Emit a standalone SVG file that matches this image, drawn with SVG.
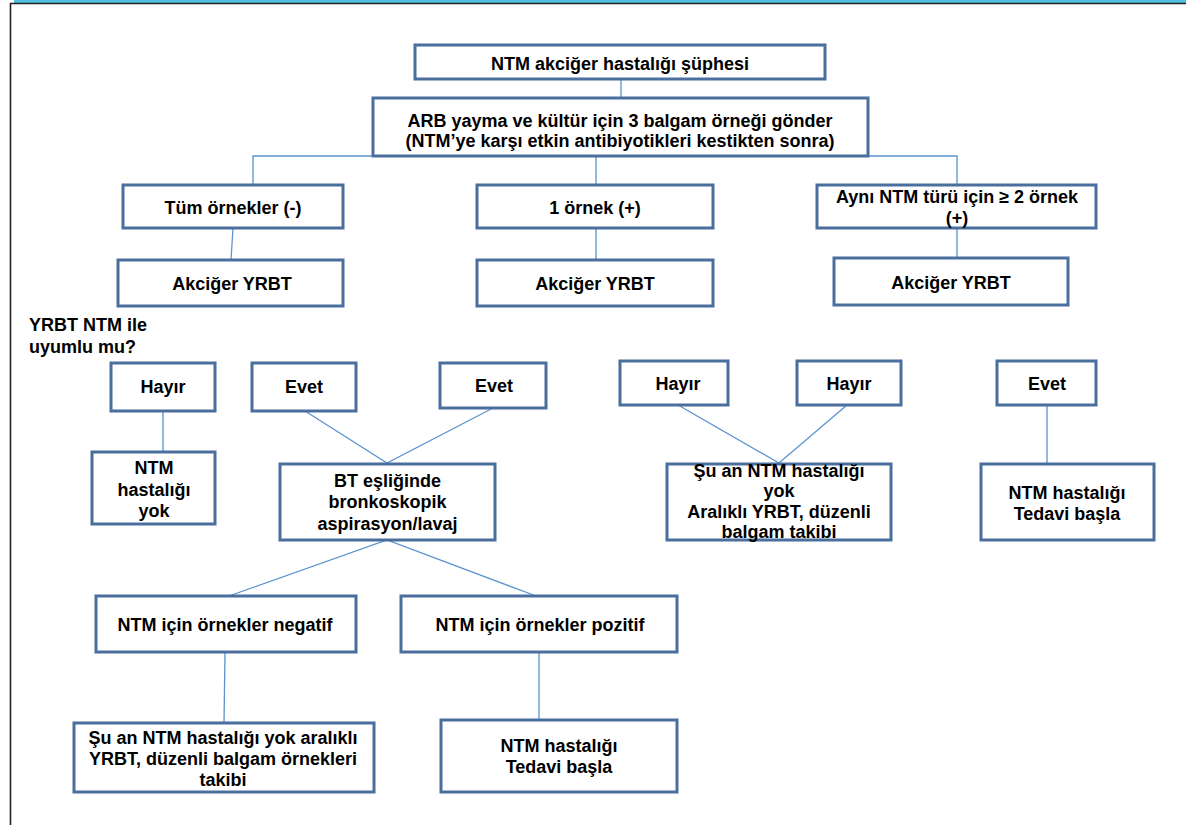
<svg xmlns="http://www.w3.org/2000/svg" width="1186" height="825" viewBox="0 0 1186 825">
<style>
.box{fill:#fff;stroke:#4a6f9e;stroke-width:3}
.t{font-family:"Liberation Sans",Arial,sans-serif;font-weight:bold;font-size:18px;fill:#000;text-anchor:middle}
.l{text-anchor:start}
.c{fill:none;stroke:#5b93cf;stroke-width:1.3}
</style>
<rect width="1186" height="825" fill="#fff"/>
<g id="frame">
<rect x="14" y="0" width="1172" height="3.5" fill="#4fc1de"/>
<path d="M10.5,825 V3.5 H1186" fill="none" stroke="#222" stroke-width="1.6"/>
</g>
<g id="connectors">
<path class="c" d="M621,79 V98"/>
<path class="c" d="M253,185 V156 H957 V185"/>
<path class="c" d="M596,156 V185"/>
<path class="c" d="M233,228 L231,260"/>
<path class="c" d="M596,228 V260"/>
<path class="c" d="M957,228 V258"/>
<path class="c" d="M163,411 V452"/>
<path class="c" d="M305,411 L387,463 L493,408"/>
<path class="c" d="M678,405 L779,463 L847,405"/>
<path class="c" d="M1047,405 V464"/>
<path class="c" d="M229,596 L387,540 L536,596"/>
<path class="c" d="M225,652 L224,723"/>
<path class="c" d="M539,652 V720"/>
</g>
<g id="n1"><rect class="box" x="415" y="45" width="410" height="34"/><text class="t" x="620" y="70">NTM akciğer hastalığı şüphesi</text></g>
<g id="n2"><rect class="box" x="373" y="98" width="495" height="58"/><text class="t" x="620" y="127">ARB yayma ve kültür için 3 balgam örneği gönder</text><text class="t" x="620" y="147">(NTM’ye karşı etkin antibiyotikleri kestikten sonra)</text></g>
<g id="n3"><rect class="box" x="123" y="185" width="220" height="43"/><text class="t" x="233" y="214">Tüm örnekler (-)</text></g>
<g id="n4"><rect class="box" x="477" y="185" width="236" height="43"/><text class="t" x="595" y="214">1 örnek (+)</text></g>
<g id="n5"><rect class="box" x="817" y="185" width="279" height="43"/><text class="t" x="957" y="203">Aynı NTM türü için ≥ 2 örnek</text><text class="t" x="957" y="224">(+)</text></g>
<g id="n6"><rect class="box" x="118" y="260" width="225" height="46"/><text class="t" x="232" y="290">Akciğer YRBT</text></g>
<g id="n7"><rect class="box" x="477" y="260" width="236" height="46"/><text class="t" x="595" y="290">Akciğer YRBT</text></g>
<g id="n8"><rect class="box" x="834" y="258" width="234" height="47"/><text class="t" x="951" y="289">Akciğer YRBT</text></g>
<g id="q"><text class="t l" x="29" y="331">YRBT NTM ile</text><text class="t l" x="29" y="353">uyumlu mu?</text></g>
<g id="n9"><rect class="box" x="111" y="363" width="104" height="48"/><text class="t" x="163" y="393">Hayır</text></g>
<g id="n10"><rect class="box" x="252" y="363" width="104" height="48"/><text class="t" x="304" y="393">Evet</text></g>
<g id="n11"><rect class="box" x="440" y="363" width="106" height="45"/><text class="t" x="494" y="392">Evet</text></g>
<g id="n12"><rect class="box" x="92" y="452" width="123" height="72"/><text class="t" x="154" y="474">NTM</text><text class="t" x="154" y="496">hastalığı</text><text class="t" x="154" y="517">yok</text></g>
<g id="n13"><rect class="box" x="280" y="464" width="215" height="76"/><text class="t" x="387.5" y="487">BT eşliğinde</text><text class="t" x="387.5" y="508">bronkoskopik</text><text class="t" x="387.5" y="530">aspirasyon/lavaj</text></g>
<g id="n14"><rect class="box" x="620" y="361" width="108" height="44"/><text class="t" x="678" y="390">Hayır</text></g>
<g id="n15"><rect class="box" x="797" y="361" width="104" height="44"/><text class="t" x="849" y="390">Hayır</text></g>
<g id="n16"><rect class="box" x="997" y="361" width="99" height="44"/><text class="t" x="1047" y="390">Evet</text></g>
<g id="n17"><rect class="box" x="667" y="464" width="224" height="76"/><text class="t" x="779" y="477">Şu an NTM hastalığı</text><text class="t" x="779" y="497">yok</text><text class="t" x="779" y="518">Aralıklı YRBT, düzenli</text><text class="t" x="779" y="538">balgam takibi</text></g>
<g id="n18"><rect class="box" x="981" y="464" width="173" height="76"/><text class="t" x="1067" y="499">NTM hastalığı</text><text class="t" x="1067" y="520">Tedavi başla</text></g>
<g id="n19"><rect class="box" x="96" y="596" width="260" height="56"/><text class="t" x="225" y="631">NTM için örnekler negatif</text></g>
<g id="n20"><rect class="box" x="401" y="596" width="276" height="56"/><text class="t" x="540" y="631">NTM için örnekler pozitif</text></g>
<g id="n21"><rect class="box" x="74" y="723" width="300" height="69"/><text class="t" x="223" y="744">Şu an NTM hastalığı yok aralıklı</text><text class="t" x="223" y="765">YRBT, düzenli balgam örnekleri</text><text class="t" x="223" y="786">takibi</text></g>
<g id="n22"><rect class="box" x="441" y="720" width="236" height="72"/><text class="t" x="559" y="752">NTM hastalığı</text><text class="t" x="559" y="773">Tedavi başla</text></g>
</svg>
